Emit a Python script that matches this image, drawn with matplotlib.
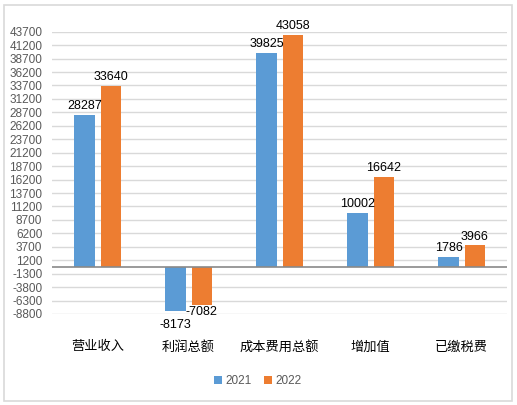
import numpy as np
import matplotlib.pyplot as plt
from matplotlib.patches import Rectangle

categories = ['营业收入', '利润总额', '成本费用总额', '增加值', '已缴税费']
values_2021 = [28287, -8173, 39825, 10002, 1786]
values_2022 = [33640, -7082, 43058, 16642, 3966]
series_names = ['2021', '2022']
y_ticks = list(range(-8800, 43701, 2500))

blue = '#5B9BD5'
orange = '#ED7D31'
num_font = 'Liberation Sans'
cjk_font = ['Noto Sans CJK SC', 'DejaVu Sans']

fig = plt.figure(figsize=(5.17, 4.05), dpi=100)
ax = fig.add_axes([0.1006, 0.2247, 0.8801, 0.6970])

# outer chart border
fig.patches.append(Rectangle((4 / 517, 4 / 405), 508 / 517, 396 / 405,
                             transform=fig.transFigure, fill=False,
                             edgecolor='#D9D9D9', linewidth=1.2))

x = np.arange(len(categories))
width = 0.22
offset = 0.143
bars1 = ax.bar(x - offset, values_2021, width, color=blue, label=series_names[0], zorder=3)
bars2 = ax.bar(x + offset, values_2022, width, color=orange, label=series_names[1], zorder=3)

ax.set_xlim(-0.5, len(categories) - 0.5)
ax.set_ylim(y_ticks[0], y_ticks[-1])
ax.set_yticks(y_ticks)
ax.set_yticklabels([str(t) for t in y_ticks], fontfamily=num_font, fontsize=8.5, color='#595959')
ax.yaxis.grid(True, color='#D9D9D9', linewidth=1, zorder=0)
ax.tick_params(axis='y', length=0, pad=7)

ax.set_xticks(x)
ax.set_xticklabels(categories, fontfamily=cjk_font, fontsize=9.5, color='black')
ax.tick_params(axis='x', length=0, pad=19)

for s in ax.spines.values():
    s.set_visible(False)
ax.axhline(0, color='#898989', linewidth=1.2, zorder=4)

# data labels
for bars, vals in ((bars1, values_2021), (bars2, values_2022)):
    for b, v in zip(bars, vals):
        cx = b.get_x() + b.get_width() / 2
        if v >= 0:
            ax.annotate(str(v), (cx, v), xytext=(0, 2), textcoords='offset points',
                        ha='center', va='bottom', fontsize=9, fontfamily=num_font)
        else:
            dy = -6 if bars is bars1 else -1
            ax.annotate(str(v), (cx, v), xytext=(0, dy), textcoords='offset points',
                        ha='center', va='top', fontsize=9, fontfamily=num_font)

leg = fig.legend(loc='center', bbox_to_anchor=(258 / 517, 1 - 381 / 405), ncol=2,
                 frameon=False, handlelength=0.7, handleheight=0.7, handletextpad=0.3,
                 columnspacing=1.0, prop={'family': num_font, 'size': 8.5})
for t in leg.get_texts():
    t.set_color('#595959')

fig.savefig('out.png', dpi=100)
